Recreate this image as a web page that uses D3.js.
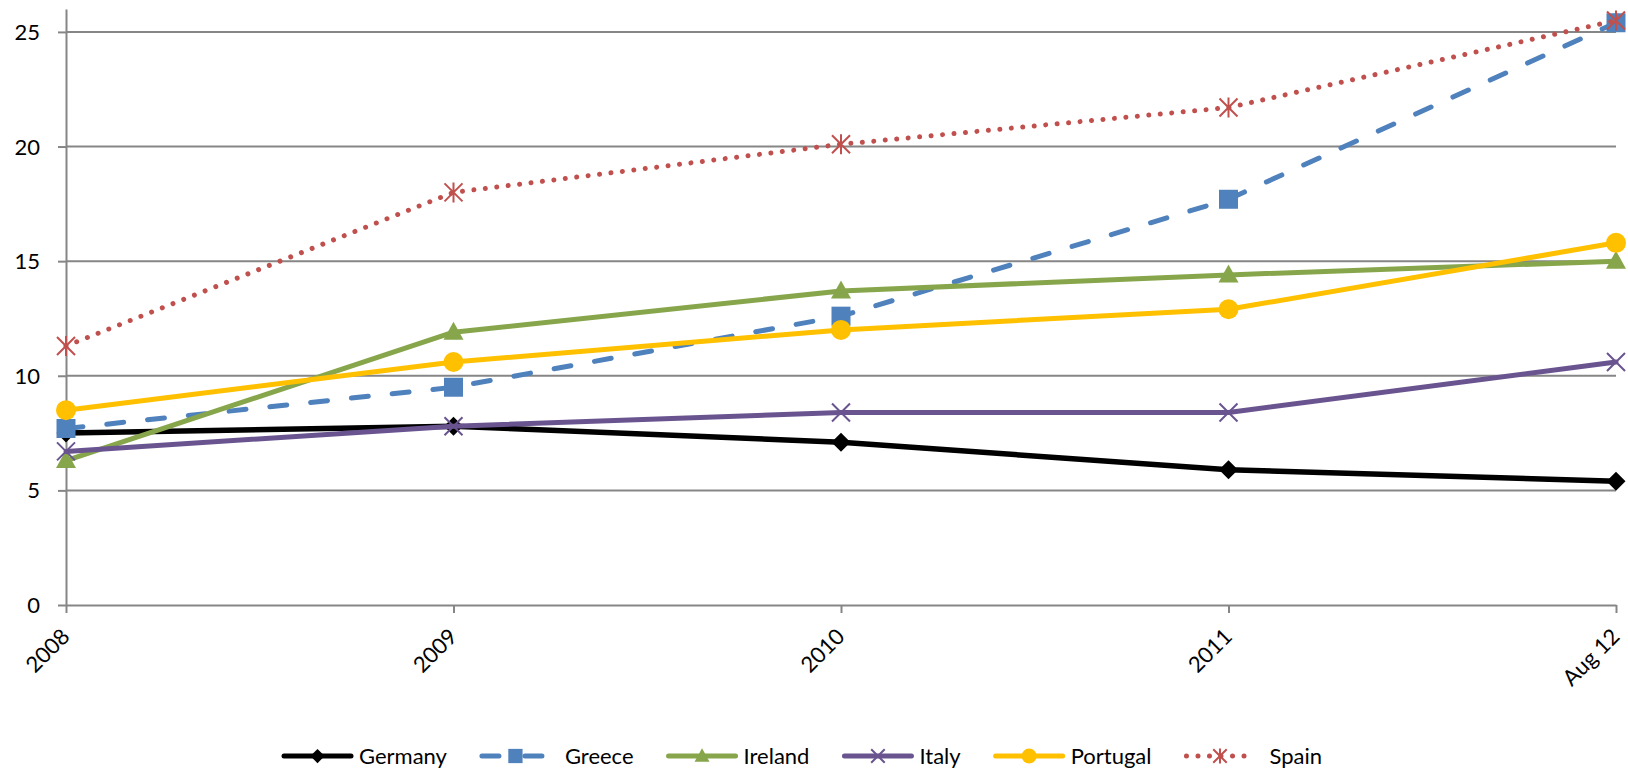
<!DOCTYPE html>
<html>
<head>
<meta charset="utf-8">
<script src="https://cdn.jsdelivr.net/npm/d3@7"></script>
<style>
  html, body { margin: 0; padding: 0; background: #ffffff; }
  svg { display: block; }
  text { font-family: Lato, "Open Sans", sans-serif; fill: #000; }
</style>
</head>
<body>
<svg id="chart" width="1628" height="771"></svg>
<script>
// Unemployment rate (%) by country
const categories = ["2008", "2009", "2010", "2011", "Aug 12"];
const germany  = [7.5, 7.8, 7.1, 5.9, 5.4];
const greece   = [7.7, 9.5, 12.6, 17.7, 25.4];
const ireland  = [6.3, 11.9, 13.7, 14.4, 15.0];
const italy    = [6.7, 7.8, 8.4, 8.4, 10.6];
const portugal = [8.5, 10.6, 12.0, 12.9, 15.8];
const spain    = [11.3, 18.0, 20.1, 21.7, 25.5];
const yTicks   = [0, 5, 10, 15, 20, 25];

const series = [
  { name: "Germany",  values: germany,  color: "#000000", dash: null,        marker: "diamond"  },
  { name: "Greece",   values: greece,   color: "#4F81BD", dash: "17 24",     marker: "square"   },
  { name: "Ireland",  values: ireland,  color: "#87A64B", dash: null,        marker: "triangle" },
  { name: "Italy",    values: italy,    color: "#6A5490", dash: null,        marker: "x"        },
  { name: "Portugal", values: portugal, color: "#FFC000", dash: null,        marker: "circle"   },
  { name: "Spain",    values: spain,    color: "#C0504D", dash: "0.01 11.5", marker: "star"     }
];

const svg = d3.select("#chart");
const plotLeft = 66, plotRight = 1616, plotTop = 9, plotBottom = 605;
const axisColor = "#868686";
const fontSize = 22;

const x = d3.scalePoint().domain(categories).range([plotLeft, plotRight]);
const y = d3.scaleLinear().domain([0, 26]).range([plotBottom, plotTop]);

// horizontal gridlines
svg.append("g")
  .selectAll("line")
  .data(yTicks.filter(d => d > 0))
  .join("line")
  .attr("x1", plotLeft).attr("x2", plotRight)
  .attr("y1", d => y(d)).attr("y2", d => y(d))
  .attr("stroke", axisColor).attr("stroke-width", 2);

// y axis
const yAxis = svg.append("g")
  .attr("transform", `translate(${plotLeft},0)`)
  .call(d3.axisLeft(y).tickValues(yTicks).tickSize(8).tickPadding(18).tickSizeOuter(0));
yAxis.select(".domain").attr("stroke", axisColor).attr("stroke-width", 2);
yAxis.selectAll(".tick line").attr("stroke", axisColor).attr("stroke-width", 2);
yAxis.selectAll(".tick text")
  .attr("font-family", "Lato, 'Open Sans', sans-serif")
  .attr("font-size", fontSize).attr("fill", "#000").attr("dy", "0.34em");

// x axis
const xAxis = svg.append("g")
  .attr("transform", `translate(0,${plotBottom})`)
  .call(d3.axisBottom(x).tickSize(8).tickSizeOuter(0).tickFormat(() => ""));
xAxis.select(".domain").attr("stroke", axisColor).attr("stroke-width", 2);
xAxis.selectAll(".tick line").attr("stroke", axisColor).attr("stroke-width", 2);

svg.append("g")
  .selectAll("text")
  .data(categories)
  .join("text")
  .attr("transform", d => `translate(${x(d) + 5},${plotBottom + 33}) rotate(-45)`)
  .attr("text-anchor", "end")
  .attr("font-size", fontSize)
  .text(d => d);

// marker drawing
function drawMarker(g, kind, color, s) {
  switch (kind) {
    case "diamond":
      g.append("path").attr("d", `M0,${-9.5*s}L${9.5*s},0L0,${9.5*s}L${-9.5*s},0Z`).attr("fill", color);
      break;
    case "square":
      g.append("rect").attr("x", -9.5*s).attr("y", -9.5*s).attr("width", 19*s).attr("height", 19*s).attr("fill", color);
      break;
    case "triangle":
      g.append("path").attr("d", `M0,${-10.5*s}L${10*s},${7.5*s}L${-10*s},${7.5*s}Z`).attr("fill", color);
      break;
    case "circle":
      g.append("circle").attr("r", 10*s).attr("fill", color);
      break;
    case "x":
      g.append("path").attr("d", `M${-9*s},${-9*s}L${9*s},${9*s}M${-9*s},${9*s}L${9*s},${-9*s}`)
        .attr("stroke", color).attr("stroke-width", 2).attr("fill", "none");
      break;
    case "star":
      g.append("path").attr("d", `M${-9*s},${-9*s}L${9*s},${9*s}M${-9*s},${9*s}L${9*s},${-9*s}M0,${-10*s}L0,${10*s}`)
        .attr("stroke", color).attr("stroke-width", 2).attr("fill", "none");
      break;
  }
}

const line = d3.line().x((d, i) => x(categories[i])).y(d => y(d));

// series: line then markers, in order
series.forEach(s => {
  const g = svg.append("g");
  g.append("path")
    .attr("d", line(s.values))
    .attr("fill", "none")
    .attr("stroke", s.color)
    .attr("stroke-width", s.name === "Germany" ? 5.5 : 5)
    .attr("stroke-linejoin", "round")
    .attr("stroke-linecap", "round")
    .attr("stroke-dasharray", s.dash);
  s.values.forEach((v, i) => {
    const m = g.append("g").attr("transform", `translate(${x(categories[i])},${y(v)})`);
    drawMarker(m, s.marker, s.color, 1);
  });
});

// legend
const legend = svg.append("g");
const legendY = 756, lineLen = 71, textGap = 6, itemGap = 33;
let lx = 282;
series.forEach(s => {
  const item = legend.append("g");
  const extra = (s.name === "Greece" || s.name === "Spain") ? 8 : 0;
  item.append("line")
    .attr("x1", lx + 2).attr("x2", lx + lineLen - 2)
    .attr("y1", legendY).attr("y2", legendY)
    .attr("stroke", s.color).attr("stroke-width", 5)
    .attr("stroke-linecap", "round")
    .attr("stroke-dasharray", s.dash ? (s.name === "Greece" ? "17 26" : "0.01 11.5") : null);
  const m = item.append("g").attr("transform", `translate(${lx + lineLen / 2},${legendY})`);
  drawMarker(m, s.marker, s.color, 0.75);
  const t = item.append("text")
    .attr("x", lx + lineLen + textGap + extra)
    .attr("y", legendY).attr("dy", "0.35em")
    .attr("font-size", fontSize)
    .text(s.name);
  lx = lx + lineLen + textGap + extra + t.node().getComputedTextLength() + itemGap;
});
</script>
</body>
</html>
